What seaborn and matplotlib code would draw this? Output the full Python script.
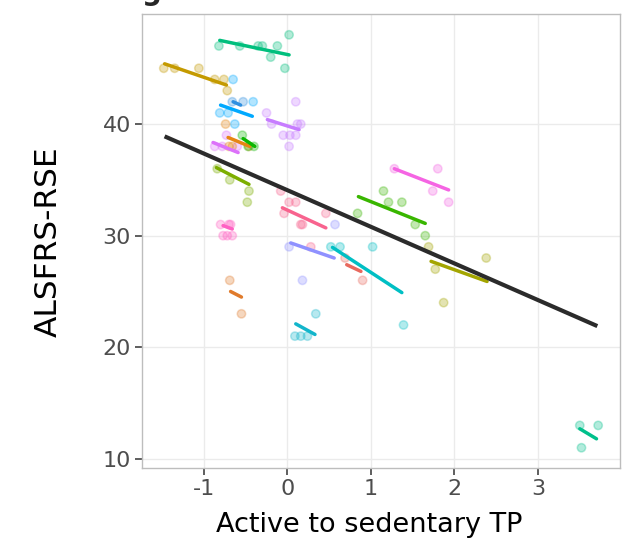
import pandas as pd
import numpy as np
import matplotlib.pyplot as plt
import seaborn as sns

pt_subject = (['S01'] * 8 + ['S02'] * 6 + ['S03'] * 5 + ['S04'] * 2 + ['S05'] * 9 +
              ['S06'] * 4 + ['S07'] * 4 + ['S08'] * 3 + ['S09'] * 4 + ['S10'] * 6 +
              ['S11'] * 2 + ['S12'] * 8 + ['S13'] * 3 + ['S14'] * 4 + ['S15'] * 2 +
              ['S16'] * 4 + ['S17'] * 6 + ['S18'] * 4 + ['S19'] * 4 + ['S20'] * 3)
pt_x = [-0.82, -0.57, -0.35, -0.30, -0.12, -0.20, -0.03, 0.02,
        -1.48, -1.35, -1.06, -0.87, -0.76, -0.72,
        -0.81, -0.71, -0.63, -0.41, -0.65,
        -0.66, -0.53,
        -0.25, -0.19, 0.10, -0.05, 0.03, 0.10, 0.02, 0.16, 0.12,
        -0.87, -0.73, -0.78, -0.60,
        -0.74, -0.66, -0.70, -0.46,
        -0.54, -0.47, -0.40,
        -0.84, -0.69, -0.46, -0.48,
        -0.80, -0.70, -0.77, -0.72, -0.66, -0.68,
        -0.69, -0.55,
        -0.08, 0.02, 0.10, -0.04, 0.16, 0.18, 0.46, 0.28,
        0.02, 0.18, 0.57,
        0.52, 0.63, 1.02, 1.39,
        0.69, 0.90,
        0.09, 0.16, 0.24, 0.34,
        0.84, 1.15, 1.21, 1.37, 1.53, 1.65,
        1.28, 1.80, 1.74, 1.93,
        1.69, 1.77, 2.38, 1.87,
        3.50, 3.72, 3.52]
pt_y = [47, 47, 47, 47, 47, 46, 45, 48,
        45, 45, 45, 44, 44, 43,
        41, 41, 40, 42, 44,
        42, 42,
        41, 40, 42, 39, 39, 39, 38, 40, 40,
        38, 39, 38, 38,
        40, 38, 38, 38,
        39, 38, 38,
        36, 35, 34, 33,
        31, 31, 30, 30, 30, 31,
        26, 23,
        34, 33, 33, 32, 31, 31, 32, 29,
        29, 26, 31,
        29, 29, 29, 22,
        28, 26,
        21, 21, 21, 23,
        32, 34, 33, 33, 31, 30,
        36, 36, 34, 33,
        29, 27, 28, 24,
        13, 13, 11]

# Fitted per-subject lines (start / end)
subjects = ['S%02d' % i for i in range(1, 21)]
line_x0 = [-0.81, -1.47, -0.80, -0.65, -0.24, -0.89, -0.71, -0.53, -0.85, -0.77,
           -0.68, -0.06, 0.04, 0.54, 0.71, 0.10, 0.85, 1.28, 1.72, 3.50]
line_x1 = [0.02, -0.73, -0.42, -0.56, 0.14, -0.59, -0.45, -0.39, -0.46, -0.66,
           -0.55, 0.46, 0.56, 1.37, 0.88, 0.33, 1.65, 1.93, 2.39, 3.70]
line_y0 = [47.5, 45.4, 41.7, 42.0, 40.4, 38.35, 38.8, 38.7, 36.1, 30.9,
           25.0, 32.5, 29.35, 28.95, 27.4, 22.1, 33.5, 36.0, 27.7, 12.7]
line_y1 = [46.2, 43.5, 40.7, 41.7, 39.5, 37.45, 38.0, 38.0, 34.6, 30.6,
           24.5, 30.7, 28.0, 24.9, 26.8, 21.15, 31.1, 34.1, 25.9, 11.8]
colors = ['#00BF7D', '#C49A00', '#00A9FF', '#2F8FE0', '#C77CFF', '#DC71FA', '#E68613',
          '#0CB702', '#7CAE00', '#FF61C3', '#E07B2C', '#F8638E', '#8F91FF', '#00BFC4',
          '#E8695E', '#12B5CB', '#39B600', '#F564E3', '#A3A500', '#00C08B']

# Overall (fixed effect) line
fixed_x = [-1.47, 3.71]
fixed_y = [38.9, 21.9]

palette = dict(zip(subjects, colors))
pts = pd.DataFrame({'subject': pt_subject, 'x': pt_x, 'y': pt_y})
lines = pd.DataFrame({'subject': subjects * 2,
                      'x': line_x0 + line_x1,
                      'y': line_y0 + line_y1})

sns.set_style('white')
plt.rcParams['font.family'] = ['DejaVu Sans']

fig, ax = plt.subplots(figsize=(6.23, 5.44), dpi=100)
fig.subplots_adjust(left=0.228, right=0.995, top=0.974, bottom=0.139)

ax.grid(True, color='#EBEBEB', linewidth=1.0)
ax.set_axisbelow(True)

sns.scatterplot(data=pts, x='x', y='y', hue='subject', palette=palette, s=36,
                alpha=0.3, linewidth=1.1, edgecolor='face', legend=False, ax=ax)
sns.lineplot(data=lines, x='x', y='y', hue='subject', palette=palette, sort=False,
             estimator=None, linewidth=2.5, legend=False, ax=ax)
ax.plot(fixed_x, fixed_y, color='#2B2B2B', linewidth=3.0, solid_capstyle='butt')

# ggplot-like 5% expansion
xr = max(pt_x) - min(pt_x)
yr = max(pt_y) - min(pt_y)
ax.set_xlim(min(pt_x) - 0.05 * xr, max(pt_x) + 0.05 * xr)
ax.set_ylim(min(pt_y) - 0.05 * yr, max(pt_y) + 0.05 * yr)

ax.set_xticks([-1, 0, 1, 2, 3])
ax.set_xticklabels(['-1', '0', '1', '2', '3'])
ax.set_yticks([10, 20, 30, 40])
ax.tick_params(axis='both', which='major', length=5, width=1.1, color='#333333',
               labelsize=16, labelcolor='#4D4D4D', pad=3, bottom=True, left=True)

for sp in ax.spines.values():
    sp.set_visible(True)
    sp.set_color('#BDBDBD')
    sp.set_linewidth(1.0)

ax.set_xlabel('Active to sedentary TP', fontsize=19.5, color='black')
ax.xaxis.set_label_coords(0.475, -0.095)
ax.set_ylabel('ALSFRS-RSE', fontsize=22.5, color='black', labelpad=29)

# panel tag, only its lower part shows at the top edge (as in the reference)
fig.text(0.228, 1.0, 'g', fontsize=20, fontweight='bold', ha='left', va='baseline')

plt.savefig('out.png', dpi=100)
plt.close()
